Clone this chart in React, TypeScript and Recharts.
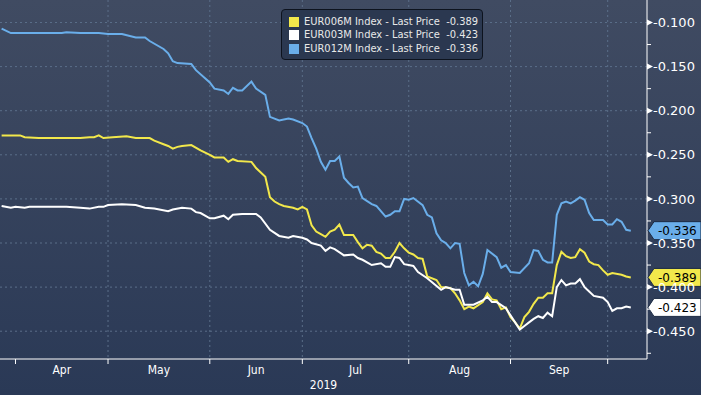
import { LineChart, Line, XAxis, YAxis, CartesianGrid, ReferenceDot } from "recharts";

// x = TARGET business day index, 0 = 1 Apr 2019
const X_DOMAIN = [-3.35, 136.5];
const MONTH_STARTS = [0, 20, 42, 62, 85, 107, 128];
const MONTH_MIDS = [10, 31, 52, 73.5, 96, 117.5];
const MONTHS = ["Apr", "May", "Jun", "Jul", "Aug", "Sep"];

const Y_DOMAIN = [-0.4815, -0.0745];
const Y_MAJOR = [-0.45, -0.4, -0.35, -0.3, -0.25, -0.2, -0.15, -0.1];
const Y_MINOR = [-0.475, -0.425, -0.375, -0.325, -0.275, -0.225, -0.175, -0.125];

const EUR012M_DAYS = [
  -3, -1, 5, 10, 11, 14, 18, 20, 23, 26, 28, 29, 32, 33, 34, 35, 38, 39, 42, 43, 45, 46, 47, 48, 49,
  51, 52, 54, 55, 57, 59, 60, 62, 63, 64, 65, 66, 67, 68, 69, 70, 71, 72, 73, 74, 75, 77, 78, 80, 81,
  82, 83, 84, 85, 86, 88, 89, 90, 91, 92, 93, 94, 95, 96, 97, 98, 99, 100, 101, 102, 104, 105, 106,
  107, 109, 111, 112, 113, 114, 115, 116, 117, 118, 119, 120, 121, 122, 123, 124, 125, 127, 128, 129,
  130, 131, 132, 133,
];
const EUR012M = [
  -0.107, -0.112, -0.112, -0.112, -0.111, -0.112, -0.112, -0.113, -0.113, -0.117, -0.117, -0.121,
  -0.13, -0.135, -0.144, -0.146, -0.147, -0.154, -0.168, -0.175, -0.177, -0.181, -0.174, -0.177,
  -0.177, -0.167, -0.175, -0.182, -0.207, -0.211, -0.209, -0.21, -0.214, -0.218, -0.231, -0.243,
  -0.258, -0.267, -0.257, -0.257, -0.252, -0.276, -0.282, -0.287, -0.286, -0.299, -0.306, -0.308,
  -0.32, -0.318, -0.314, -0.314, -0.3, -0.301, -0.299, -0.307, -0.318, -0.321, -0.339, -0.347, -0.35,
  -0.356, -0.35, -0.351, -0.384, -0.398, -0.394, -0.399, -0.385, -0.358, -0.366, -0.378, -0.375,
  -0.383, -0.384, -0.373, -0.358, -0.359, -0.369, -0.372, -0.372, -0.318, -0.305, -0.303, -0.305,
  -0.302, -0.298, -0.301, -0.316, -0.324, -0.324, -0.329, -0.329, -0.323, -0.326, -0.335, -0.336,
];

const EUR006M_DAYS = [
  -3, 1, 2, 5, 14, 16, 17, 18, 19, 21, 24, 26, 29, 30, 32, 33, 34, 35, 36, 38, 40, 42, 43, 45, 46,
  47, 48, 51, 52, 54, 55, 56, 57, 58, 60, 61, 62, 63, 64, 65, 66, 67, 68, 69, 70, 71, 73, 74, 75, 76,
  77, 78, 79, 80, 81, 82, 83, 84, 85, 86, 87, 88, 89, 91, 92, 94, 95, 96, 97, 98, 99, 101, 102, 103,
  104, 105, 106, 107, 108, 109, 110, 111, 112, 113, 114, 115, 116, 117, 118, 119, 120, 121, 122, 123,
  124, 125, 126, 127, 128, 129, 131, 132, 133,
];
const EUR006M = [
  -0.228, -0.228, -0.23, -0.231, -0.231, -0.23, -0.23, -0.228, -0.231, -0.23, -0.229, -0.231, -0.231,
  -0.234, -0.238, -0.24, -0.243, -0.241, -0.24, -0.239, -0.245, -0.25, -0.253, -0.253, -0.258, -0.255,
  -0.257, -0.258, -0.265, -0.275, -0.298, -0.303, -0.306, -0.308, -0.31, -0.312, -0.309, -0.312,
  -0.33, -0.337, -0.34, -0.343, -0.337, -0.335, -0.329, -0.341, -0.341, -0.349, -0.356, -0.352,
  -0.353, -0.36, -0.362, -0.367, -0.367, -0.36, -0.35, -0.356, -0.361, -0.363, -0.367, -0.368,
  -0.388, -0.392, -0.4, -0.401, -0.407, -0.415, -0.425, -0.422, -0.424, -0.417, -0.407, -0.414,
  -0.415, -0.425, -0.423, -0.434, -0.44, -0.447, -0.434, -0.428, -0.419, -0.412, -0.412, -0.407,
  -0.407, -0.375, -0.36, -0.365, -0.367, -0.366, -0.357, -0.361, -0.371, -0.374, -0.375, -0.381,
  -0.386, -0.384, -0.386, -0.388, -0.389,
];

const EUR003M_DAYS = [
  -3, -1, 0, 2, 3, 11, 14, 16, 18, 19, 20, 23, 26, 28, 30, 33, 34, 36, 38, 39, 40, 42, 43, 45, 46,
  47, 49, 52, 53, 55, 57, 59, 60, 62, 63, 64, 66, 67, 68, 69, 71, 73, 74, 75, 77, 79, 80, 81, 82, 83,
  84, 85, 86, 87, 89, 92, 93, 95, 96, 97, 99, 101, 102, 103, 104, 106, 107, 109, 110, 111, 112, 113,
  114, 115, 116, 117, 118, 119, 120, 121, 122, 123, 124, 125, 127, 128, 129, 130, 131, 132, 133,
];
const EUR003M = [
  -0.308, -0.31, -0.309, -0.31, -0.309, -0.309, -0.31, -0.311, -0.309, -0.309, -0.307, -0.306,
  -0.307, -0.31, -0.311, -0.314, -0.312, -0.31, -0.311, -0.315, -0.316, -0.322, -0.322, -0.319,
  -0.323, -0.318, -0.317, -0.317, -0.321, -0.335, -0.342, -0.344, -0.342, -0.344, -0.346, -0.35,
  -0.353, -0.359, -0.355, -0.357, -0.364, -0.363, -0.367, -0.369, -0.375, -0.373, -0.377, -0.377,
  -0.366, -0.367, -0.374, -0.375, -0.376, -0.383, -0.39, -0.403, -0.4, -0.403, -0.403, -0.42, -0.42,
  -0.415, -0.411, -0.417, -0.417, -0.424, -0.432, -0.448, -0.444, -0.44, -0.436, -0.433, -0.435,
  -0.429, -0.433, -0.4, -0.392, -0.398, -0.396, -0.396, -0.391, -0.4, -0.405, -0.41, -0.412, -0.417,
  -0.427, -0.424, -0.424, -0.422, -0.423,
];

const SERIES = [
  { name: "EUR012M Index - Last Price", color: "#6aaeea", days: EUR012M_DAYS, values: EUR012M },
  { name: "EUR006M Index - Last Price", color: "#f2e84b", days: EUR006M_DAYS, values: EUR006M },
  { name: "EUR003M Index - Last Price", color: "#ffffff", days: EUR003M_DAYS, values: EUR003M },
];
// legend order as shown on the chart
const LEGEND_ORDER = [1, 2, 0];

const GRID = "#5b6e89";
const FONT = "'DejaVu Sans', sans-serif";
const FONT_NARROW = "'DejaVu Sans Condensed', 'DejaVu Sans', sans-serif";

const toRows = (days: number[], values: number[]) =>
  days.map((day, i) => ({ day, value: values[i] }));

function XTick(props: any) {
  const { x, y, payload } = props;
  const v = payload.value;
  const axisY = y - 8;
  const mi = MONTH_MIDS.indexOf(v);
  if (mi >= 0) {
    return (
      <text x={x} y={axisY + 15} textAnchor="middle" fill="#ffffff" fontSize={12} fontFamily={FONT_NARROW}>
        {MONTHS[mi]}
      </text>
    );
  }
  return <line x1={x} x2={x} y1={axisY} y2={axisY + 5} stroke="#ffffff" />;
}

function YTick(props: any) {
  const { x, y, payload } = props;
  const v = payload.value;
  const axisX = x - 8;
  const major = Y_MAJOR.some((m) => Math.abs(m - v) < 1e-6);
  if (!major) {
    return <line x1={axisX} x2={axisX + 4} y1={y} y2={y} stroke="#ffffff" />;
  }
  return (
    <g>
      <polygon points={`${axisX},${y - 3} ${axisX + 6},${y} ${axisX},${y + 3}`} fill="#ffffff" />
      <text x={axisX + 6} y={y} dy="0.36em" fill="#ffffff" fontSize={13} fontFamily={FONT}>
        {v.toFixed(3)}
      </text>
    </g>
  );
}

const callout = (color: string, value: number) => (props: any) => {
  const { cx, cy } = props;
  if (cx == null || cy == null) return null;
  return (
    <g>
      <polygon
        points={`${cx + 1},${cy} ${cx + 7},${cy - 9} 701,${cy - 9} 701,${cy + 9} ${cx + 7},${cy + 9}`}
        fill={color}
        stroke="#1b2a44"
        strokeWidth={1}
      />
      <text x={cx + 11} y={cy} dy="0.36em" fill="#000000" fontSize={12} fontFamily={FONT}>
        {value.toFixed(3)}
      </text>
    </g>
  );
};

export default function App() {
  const ticksX = [...MONTH_STARTS, ...MONTH_MIDS].sort((a, b) => a - b);
  const ticksY = [...Y_MINOR, ...Y_MAJOR].sort((a, b) => a - b);

  return (
    <div
      style={{
        position: "relative",
        width: 701,
        height: 395,
        background: "linear-gradient(#404b62, #2a3956)",
        overflow: "hidden",
      }}
    >
      <style>{`body{margin:0}`}</style>
      <LineChart width={701} height={395} margin={{ top: 0, right: 0, bottom: 0, left: 0 }}>
        <CartesianGrid
          stroke={GRID}
          strokeDasharray="2 3"
          horizontalValues={Y_MAJOR}
          verticalValues={MONTH_STARTS.slice(1)}
        />
        <XAxis
          dataKey="day"
          type="number"
          domain={X_DOMAIN}
          ticks={ticksX}
          interval={0}
          allowDataOverflow
          height={36}
          axisLine={{ stroke: "#ffffff" }}
          tickLine={false}
          tick={<XTick />}
          label={{ value: "2019", position: "insideBottom", offset: 6, fill: "#ffffff", fontSize: 12, fontFamily: FONT_NARROW }}
        />
        <YAxis
          orientation="right"
          type="number"
          domain={Y_DOMAIN}
          ticks={ticksY}
          interval={0}
          allowDataOverflow
          width={54}
          axisLine={{ stroke: "#ffffff" }}
          tickLine={false}
          tick={<YTick />}
        />
        {SERIES.map((s) => (
          <Line
            key={s.name}
            data={toRows(s.days, s.values)}
            dataKey="value"
            name={s.name}
            type="linear"
            stroke={s.color}
            strokeWidth={2}
            dot={false}
            activeDot={false}
            isAnimationActive={false}
          />
        ))}
        {SERIES.map((s) => (
          <ReferenceDot
            key={`c-${s.name}`}
            x={X_DOMAIN[1]}
            y={s.values[s.values.length - 1]}
            r={0}
            ifOverflow="visible"
            shape={callout(s.color, s.values[s.values.length - 1])}
          />
        ))}
      </LineChart>
      <div
        style={{
          position: "absolute",
          left: 281,
          top: 9,
          width: 202,
          height: 51,
          boxSizing: "border-box",
          background: "#2b3850",
          border: "1px solid #0d131e",
          borderRadius: 4,
          padding: "5px 0 0 7px",
          fontFamily: FONT_NARROW,
          fontSize: 11,
          color: "#e8e8e8",
          lineHeight: "13.4px",
        }}
      >
        {LEGEND_ORDER.map((i) => {
          const s = SERIES[i];
          return (
            <div key={s.name} style={{ display: "flex", alignItems: "center", whiteSpace: "pre" }}>
              <span style={{ display: "inline-block", width: 10, height: 10, background: s.color, marginRight: 5 }} />
              <span>{`${s.name}  ${s.values[s.values.length - 1].toFixed(3)}`}</span>
            </div>
          );
        })}
      </div>
    </div>
  );
}
